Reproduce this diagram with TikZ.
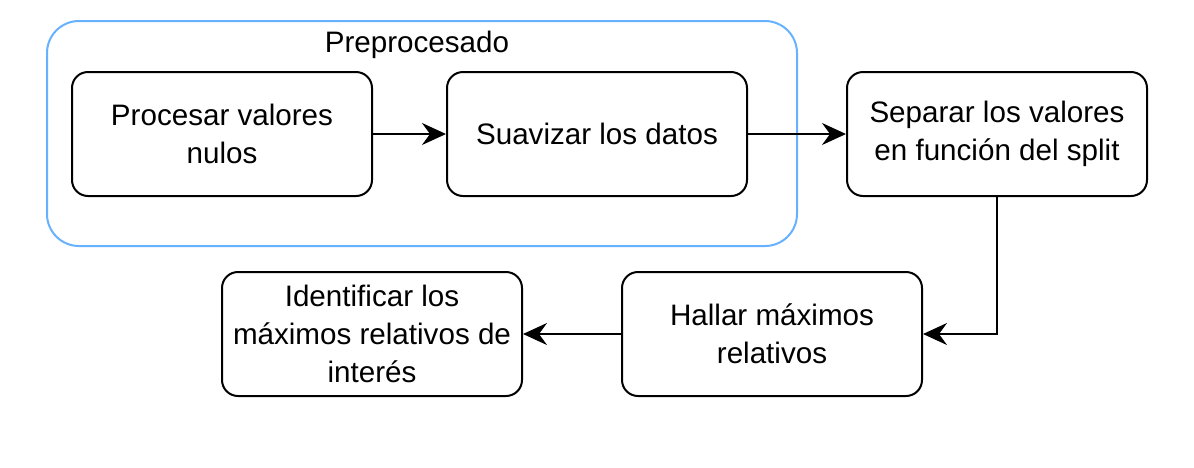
\documentclass[tikz,border=0pt]{standalone}
\usepackage{fontspec}
\setmainfont{Liberation Sans}
\usetikzlibrary{arrows.meta}
\definecolor{grpblue}{RGB}{102,178,255}
\tikzset{
  stepbox/.style={draw=black, line width=1pt, rounded corners=8pt, minimum width=150pt, minimum height=62pt, align=center, inner sep=2pt, font=\fontsize{14.8pt}{19pt}\selectfont},
  grpbox/.style={draw=grpblue, line width=1pt, rounded corners=16pt, minimum width=375pt, minimum height=112.5pt},
  conn/.style={line width=1pt, -{Stealth[length=12pt,width=11pt,inset=4pt]}},
  lbl/.style={font=\fontsize{14.8pt}{19pt}\selectfont, inner sep=0pt}
}
\begin{document}
\begin{tikzpicture}[x=0.5pt,y=-0.5pt]
\useasboundingbox (0,0) rectangle (1194,467);
\node[grpbox] (grp) at (422,133.5) {};
\node[lbl] (title) at (417,45) {Preprocesado};
\node[stepbox] (b1) at (222,134) {Procesar valores\\nulos};
\node[stepbox] (b2) at (597,134) {Suavizar los datos};
\node[stepbox] (b3) at (997,134) {Separar los valores\\en función del split};
\node[stepbox] (b4) at (772,334) {Hallar máximos\\relativos};
\node[stepbox] (b5) at (372,334) {Identificar los\\máximos relativos de\\interés};
\draw[conn] (b1) -- (b2);
\draw[conn] (b2) -- (b3);
\draw[conn] (b3.south) |- (b4.east);
\draw[conn] (b4) -- (b5);
\end{tikzpicture}
\end{document}
